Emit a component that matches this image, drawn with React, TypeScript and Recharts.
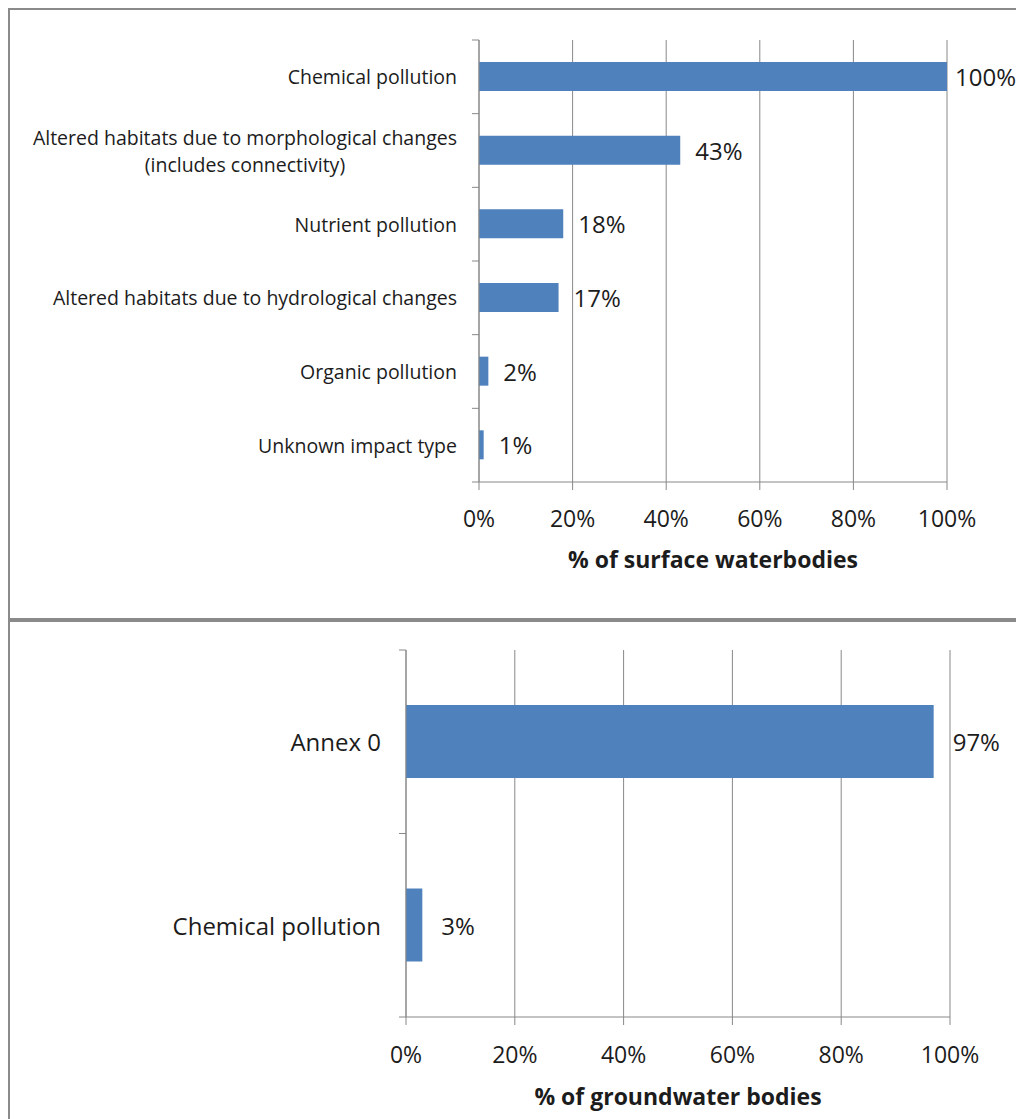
import React from "react";
import {
  Bar,
  BarChart,
  CartesianGrid,
  LabelList,
  XAxis,
  YAxis,
} from "recharts";

// surface waterbodies, share affected by impact type
const surfaceImpacts = [
  "Chemical pollution",
  "Altered habitats due to morphological changes\n(includes connectivity)",
  "Nutrient pollution",
  "Altered habitats due to hydrological changes",
  "Organic pollution",
  "Unknown impact type",
];
const surfaceShare = [100, 43, 18, 17, 2, 1];

// groundwater bodies
const groundImpacts = ["Annex 0", "Chemical pollution"];
const groundShare = [97, 3];

const pctTicks = [0, 20, 40, 60, 80, 100];

const FONT = "'Open Sans', sans-serif";
const BLUE = "#4F81BD";
const AXIS = "#888888";
const TEXT = "#1c1c1c";
const VALUE_FONT = 24;
const TICK_FONT = 23;

let ctx: CanvasRenderingContext2D | null = null;
function textWidth(s: string, font: string) {
  if (!ctx) ctx = document.createElement("canvas").getContext("2d");
  if (!ctx) return s.length * 8;
  ctx.font = font;
  return ctx.measureText(s).width;
}

const surfaceData = surfaceImpacts.map((name, i) => ({ name, value: surfaceShare[i] }));
const groundData = groundImpacts.map((name, i) => ({ name, value: groundShare[i] }));

interface PanelCfg {
  width: number;
  height: number;
  plotLeft: number;
  plotTop: number;
  marginRight: number;
  axisHeight: number;
  catFont: number;
  catPad: number;
  lineGap: number;
  labelGap: number;
  barSize: number;
  tickMargin: number;
  titleOffset: number;
  title: string;
  count: number;
}

function makeCatTick(cfg: PanelCfg) {
  const plotH = cfg.height - cfg.plotTop - cfg.axisHeight;
  const band = plotH / cfg.count;
  return (props: any) => {
    const { y, payload, index } = props;
    const lines = String(payload.value).split("\n");
    const font = `${cfg.catFont}px ${FONT}`;
    const right = cfg.plotLeft - cfg.catPad;
    const widths = lines.map((l) => textWidth(l, font));
    const maxW = Math.max(...widths);
    const cx = right - maxW / 2;
    const y0 = y - ((lines.length - 1) * cfg.lineGap) / 2;
    return (
      <g>
        {lines.map((l, i) => (
          <text
            key={i}
            x={lines.length > 1 ? cx : right}
            y={y0 + i * cfg.lineGap}
            textAnchor={lines.length > 1 ? "middle" : "end"}
            dominantBaseline="central"
            fontSize={cfg.catFont}
            fontFamily={FONT}
            fill={TEXT}
          >
            {l}
          </text>
        ))}
        <line
          x1={cfg.plotLeft - 7}
          x2={cfg.plotLeft}
          y1={y - band / 2}
          y2={y - band / 2}
          stroke={AXIS}
        />
        {index === cfg.count - 1 && (
          <line
            x1={cfg.plotLeft - 7}
            x2={cfg.plotLeft}
            y1={y + band / 2}
            y2={y + band / 2}
            stroke={AXIS}
          />
        )}
      </g>
    );
  };
}

function makeValueLabel(cfg: PanelCfg) {
  return (props: any) => {
    const { x, y, width, height, value } = props;
    const s = `${value}%`;
    const w = textWidth(s, `${VALUE_FONT}px ${FONT}`);
    const lx = Math.min(x + width + cfg.labelGap, cfg.width - w);
    return (
      <text
        x={lx}
        y={y + height / 2}
        dominantBaseline="central"
        fontSize={VALUE_FONT}
        fontFamily={FONT}
        fill={TEXT}
      >
        {s}
      </text>
    );
  };
}

function Panel({ data, cfg }: { data: { name: string; value: number }[]; cfg: PanelCfg }) {
  return (
    <BarChart
      width={cfg.width}
      height={cfg.height}
      data={data}
      layout="vertical"
      margin={{ top: cfg.plotTop, right: cfg.marginRight, bottom: 0, left: 0 }}
    >
      <CartesianGrid horizontal={false} stroke={AXIS} />
      <XAxis
        type="number"
        domain={[0, 100]}
        ticks={pctTicks}
        tickFormatter={(v) => `${v}%`}
        height={cfg.axisHeight}
        tickSize={8}
        tickMargin={cfg.tickMargin}
        axisLine={{ stroke: AXIS }}
        tickLine={{ stroke: AXIS }}
        tick={{ fill: TEXT, fontSize: TICK_FONT, fontFamily: FONT }}
        interval={0}
        label={{
          value: cfg.title,
          position: "insideBottom",
          offset: cfg.titleOffset,
          fill: TEXT,
          fontSize: 23,
          fontWeight: 700,
          fontFamily: FONT,
        }}
      />
      <YAxis
        type="category"
        dataKey="name"
        width={cfg.plotLeft}
        axisLine={{ stroke: AXIS }}
        tickLine={false}
        tickSize={0}
        interval={0}
        tick={makeCatTick(cfg)}
      />
      <Bar dataKey="value" fill={BLUE} barSize={cfg.barSize} isAnimationActive={false}>
        <LabelList dataKey="value" content={makeValueLabel(cfg)} />
      </Bar>
    </BarChart>
  );
}

const topCfg: PanelCfg = {
  width: 1006,
  height: 608,
  plotLeft: 469,
  plotTop: 30,
  marginRight: 69,
  axisHeight: 136,
  catFont: 19.5,
  catPad: 22,
  lineGap: 27,
  labelGap: 15,
  barSize: 29,
  tickMargin: 21,
  titleOffset: 50,
  title: "% of surface waterbodies",
  count: surfaceImpacts.length,
};

const bottomCfg: PanelCfg = {
  width: 1006,
  height: 497,
  plotLeft: 396,
  plotTop: 28,
  marginRight: 66,
  axisHeight: 102,
  catFont: 24,
  catPad: 25,
  lineGap: 27,
  labelGap: 19,
  barSize: 73,
  tickMargin: 22,
  titleOffset: 14,
  title: "% of groundwater bodies",
  count: groundImpacts.length,
};

export default function App() {
  return (
    <div
      style={{
        width: 1016,
        height: 1119,
        overflow: "hidden",
        position: "relative",
        fontFamily: FONT,
        background: "#fff",
      }}
    >
      <style>{"html,body{margin:0;padding:0;overflow:hidden;}"}</style>
      <div
        style={{
          position: "absolute",
          left: 8,
          top: 8,
          width: 1060,
          height: 612,
          border: "2px solid #8a8a8a",
          boxSizing: "border-box",
        }}
      >
        <Panel data={surfaceData} cfg={topCfg} />
      </div>
      <div
        style={{
          position: "absolute",
          left: 8,
          top: 620,
          width: 1060,
          height: 620,
          border: "2px solid #8a8a8a",
          boxSizing: "border-box",
        }}
      >
        <Panel data={groundData} cfg={bottomCfg} />
      </div>
    </div>
  );
}
